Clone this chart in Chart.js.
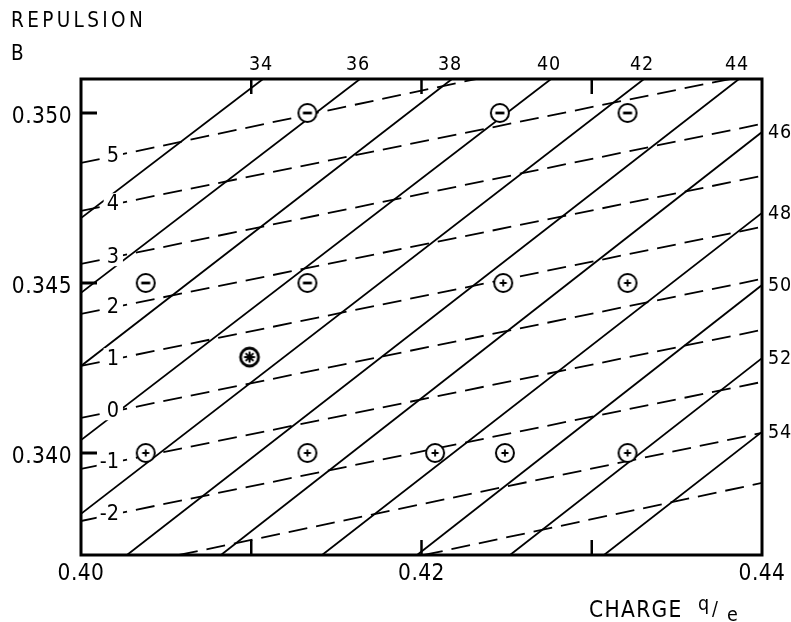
<!DOCTYPE html>
<html><head><meta charset="utf-8">
<script src="https://cdn.jsdelivr.net/npm/chart.js@4/dist/chart.umd.min.js"></script>
<style>html,body{margin:0;padding:0;background:#fff}#wrap{width:791px;height:622px}</style>
</head><body><div id="wrap"><canvas id="c" width="791" height="622"></canvas></div>
<script>
// ---------- data ----------
const xRange = [0.40, 0.44];
const yRange = [0.337, 0.351];
const xTickValues = [0.40, 0.42, 0.44];
const xTickLabels = ['0.40', '0.42', '0.44'];
const xMinorTicks = [0.41, 0.42, 0.43];
const yTickValues = [0.350, 0.345, 0.340];
const yTickLabels = ['0.350', '0.345', '0.340'];

// solid lines (labelled on top / right)
const solidLabels = ['34','36','38','40','42','44','46','48','50','52','54'];
const solidStartX = [0.40, 0.40, 0.40, 0.40, 0.40, 0.40270, 0.40822, 0.41416, 0.41974, 0.42520, 0.43072];
const solidStartY = [0.34691, 0.34471, 0.34256, 0.34038, 0.33821, 0.337, 0.337, 0.337, 0.337, 0.337, 0.337];
const solidEndX   = [0.41069, 0.41639, 0.42179, 0.42761, 0.43307, 0.43865, 0.44, 0.44, 0.44, 0.44, 0.44];
const solidEndY   = [0.351, 0.351, 0.351, 0.351, 0.351, 0.351, 0.34944, 0.34706, 0.34494, 0.34279, 0.34062];

// dashed lines (labelled on left)
const dashLabels = ['5','4','3','2','1','0','-1','-2','',''];
const dashStartX = [0.40, 0.40, 0.40, 0.40, 0.40, 0.40, 0.40, 0.40, 0.40576, 0.42015];
const dashStartY = [0.34853, 0.34712, 0.34556, 0.34409, 0.34256, 0.34103, 0.33953, 0.33800, 0.337, 0.337];
const dashEndX   = [0.42320, 0.43812, 0.44, 0.44, 0.44, 0.44, 0.44, 0.44, 0.44, 0.44];
const dashEndY   = [0.351, 0.351, 0.34968, 0.34815, 0.34665, 0.34512, 0.34362, 0.34209, 0.34059, 0.33912];
const dashLabelX = 0.40223;

// markers
const minusX = [0.4133, 0.4246, 0.4321, 0.4038, 0.4133];
const minusY = [0.350, 0.350, 0.350, 0.345, 0.345];
const plusX  = [0.4248, 0.4321, 0.4038, 0.4133, 0.4208, 0.4249, 0.4321];
const plusY  = [0.345, 0.345, 0.340, 0.340, 0.340, 0.340, 0.340];
const starX  = [0.4099];
const starY  = [0.34282];

// ---------- marker images ----------
function makeMarker(kind){
  const c = document.createElement('canvas'); c.width = 26; c.height = 26;
  const g = c.getContext('2d');
  g.fillStyle = '#fff'; g.strokeStyle = '#000';
  g.lineWidth = kind === 'star' ? 2.8 : 2;
  g.beginPath(); g.arc(13, 13, 9, 0, Math.PI*2); g.fill(); g.stroke();
  g.lineCap = 'butt';
  if (kind === 'minus') {
    g.lineWidth = 2.8; g.beginPath(); g.moveTo(8.5, 13); g.lineTo(17.5, 13); g.stroke();
  } else if (kind === 'plus') {
    g.lineWidth = 1.8; g.beginPath();
    g.moveTo(9.5, 13); g.lineTo(16.5, 13); g.moveTo(13, 9.5); g.lineTo(13, 16.5); g.stroke();
  } else {
    g.lineWidth = 2; g.beginPath();
    for (let k = 0; k < 4; k++) {
      const a = k * Math.PI / 4;
      g.moveTo(13 - 5.5*Math.cos(a), 13 - 5.5*Math.sin(a));
      g.lineTo(13 + 5.5*Math.cos(a), 13 + 5.5*Math.sin(a));
    }
    g.stroke();
    g.fillStyle = '#000'; g.beginPath(); g.arc(13, 13, 2.4, 0, Math.PI*2); g.fill();
  }
  return c;
}

// ---------- datasets ----------
const datasets = [];
for (let i = 0; i < solidLabels.length; i++) {
  datasets.push({
    data: [{x: solidStartX[i], y: solidStartY[i]}, {x: solidEndX[i], y: solidEndY[i]}],
    showLine: true, borderColor: '#000', borderWidth: 1.8, pointRadius: 0, order: 3
  });
}
for (let i = 0; i < dashLabels.length; i++) {
  datasets.push({
    data: [{x: dashStartX[i], y: dashStartY[i]}, {x: dashEndX[i], y: dashEndY[i]}],
    showLine: true, borderColor: '#000', borderWidth: 1.8, borderDash: [19, 9], pointRadius: 0, order: 3
  });
}
function pts(xs, ys){ return xs.map((x, i) => ({x, y: ys[i]})); }
datasets.push({ data: pts(minusX, minusY), pointStyle: makeMarker('minus'), showLine: false, order: 1 });
datasets.push({ data: pts(plusX, plusY), pointStyle: makeMarker('plus'), showLine: false, order: 1 });
datasets.push({ data: pts(starX, starY), pointStyle: makeMarker('star'), showLine: false, order: 1 });

// ---------- decorations ----------
const FONT = '"DejaVu Sans", sans-serif';
const SQ = 0.88; // horizontal condensation of the lettering
function txt(ctx, s, x, y, size, align, spacing){
  ctx.save();
  ctx.font = size + 'px ' + FONT;
  ctx.letterSpacing = (spacing || 0) + 'px';
  ctx.textAlign = align; ctx.textBaseline = 'middle'; ctx.fillStyle = '#000';
  ctx.translate(x, y); ctx.scale(SQ, 1);
  ctx.fillText(s, 0, 0);
  ctx.restore();
}
function txtWidth(ctx, s, size){
  ctx.save(); ctx.font = size + 'px ' + FONT; ctx.letterSpacing = '0px';
  const w = ctx.measureText(s).width * SQ; ctx.restore(); return w;
}

const deco = {
  id: 'deco',
  afterDatasetsDraw(chart){
    const {ctx, scales: {x: sx, y: sy}} = chart;
    for (let i = 0; i < dashLabels.length; i++) {
      if (!dashLabels[i]) continue;
      const w = txtWidth(ctx, dashLabels[i], 22);
      const px = sx.getPixelForValue(dashLabelX);
      const t = (dashLabelX - dashStartX[i]) / (dashEndX[i] - dashStartX[i]);
      const py = sy.getPixelForValue(dashStartY[i] + t*(dashEndY[i] - dashStartY[i]));
      ctx.save(); ctx.fillStyle = '#fff';
      ctx.fillRect(px - w - 3, py - 10, w + 7, 20); ctx.restore();
      txt(ctx, dashLabels[i], px, py + 1, 22, 'right', 0);
    }
  },
  afterDraw(chart){
    const {ctx, chartArea: a, scales: {x: sx, y: sy}} = chart;
    ctx.save();
    ctx.strokeStyle = '#000';
    ctx.lineWidth = 3;
    ctx.strokeRect(a.left, a.top, a.right - a.left, a.bottom - a.top);
    yTickValues.forEach(v => {
      const py = sy.getPixelForValue(v);
      ctx.beginPath(); ctx.moveTo(a.left, py); ctx.lineTo(a.left + 16, py); ctx.stroke();
    });
    ctx.lineWidth = 2.5;
    xMinorTicks.forEach(v => {
      const px = sx.getPixelForValue(v);
      ctx.beginPath(); ctx.moveTo(px, a.bottom); ctx.lineTo(px, a.bottom - 15); ctx.stroke();
      ctx.beginPath(); ctx.moveTo(px, a.top); ctx.lineTo(px, a.top + 15); ctx.stroke();
    });
    ctx.restore();
    yTickValues.forEach((v, i) => txt(ctx, yTickLabels[i], a.left - 9, sy.getPixelForValue(v) + 4, 23, 'right', 0.5));
    xTickValues.forEach((v, i) => txt(ctx, xTickLabels[i], sx.getPixelForValue(v), a.bottom + 19, 23, 'center', 0.5));
    for (let i = 0; i < solidLabels.length; i++) {
      if (solidEndY[i] >= yRange[1] - 1e-9) {
        txt(ctx, solidLabels[i], sx.getPixelForValue(solidEndX[i]) - 2, a.top - 14, 20, 'center', 1);
      } else {
        txt(ctx, solidLabels[i], a.right + 6, sy.getPixelForValue(solidEndY[i]) + 1, 20, 'left', 1);
      }
    }
    txt(ctx, 'REPULSION', 11, 22, 21, 'left', 3.8);
    txt(ctx, 'B', 11, 55, 21, 'left', 0);
    txt(ctx, 'CHARGE', 589, 611, 23, 'left', 1.5);
    txt(ctx, 'q', 698, 605, 20, 'left', 0);
    txt(ctx, '/', 712, 610, 20, 'left', 0);
    txt(ctx, 'e', 727, 616, 20, 'left', 0);
  }
};

new Chart(document.getElementById('c'), {
  type: 'scatter',
  data: { datasets },
  options: {
    responsive: false, animation: false, devicePixelRatio: 1,
    layout: { padding: { left: 81, right: 29, top: 79, bottom: 67 } },
    plugins: { legend: { display: false }, tooltip: { enabled: false } },
    scales: {
      x: { type: 'linear', min: xRange[0], max: xRange[1], display: false },
      y: { type: 'linear', min: yRange[0], max: yRange[1], display: false }
    },
    elements: { line: { tension: 0 } }
  },
  plugins: [deco]
});
</script>
</body></html>
